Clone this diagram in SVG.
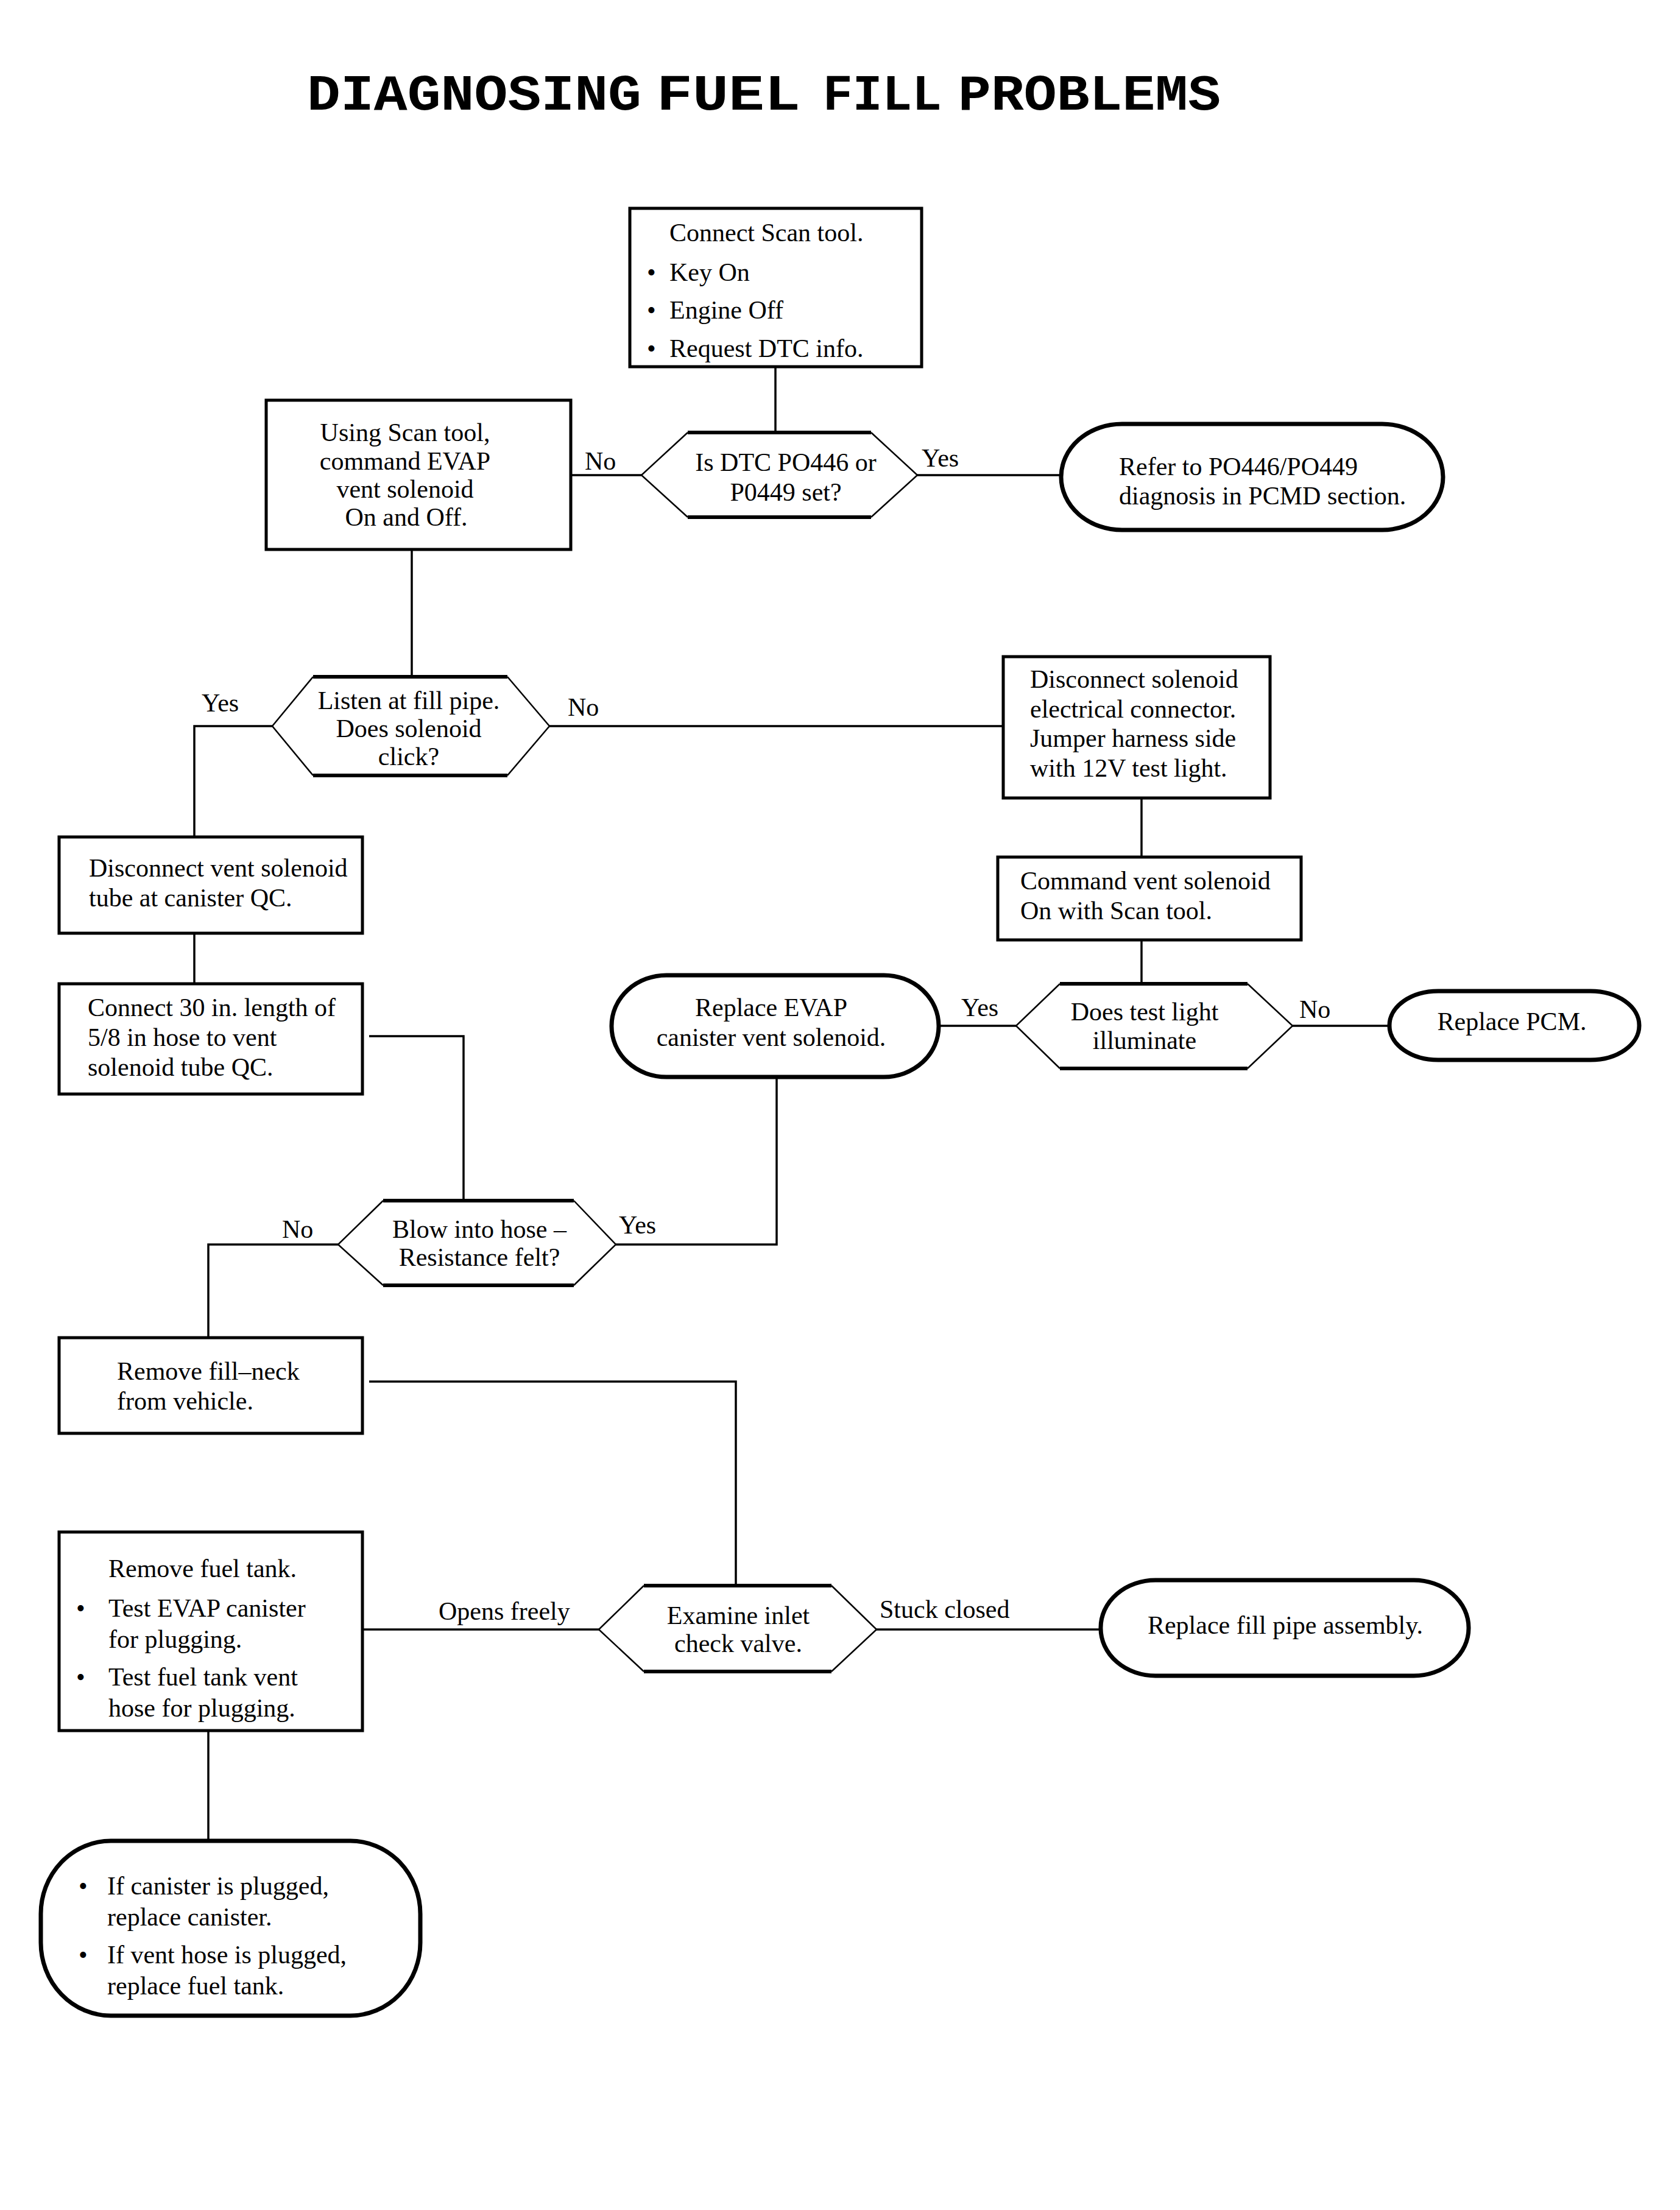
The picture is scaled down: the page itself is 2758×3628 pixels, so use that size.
<svg xmlns="http://www.w3.org/2000/svg" width="2758" height="3628" viewBox="0 0 2758 3628">
<style>
.bg{fill:#fff}
.box{fill:#fff;stroke:#000;stroke-width:5}
.term{fill:#fff;stroke:#000;stroke-width:7}
.hexd{fill:none;stroke:#000;stroke-width:2.5}
.hexh{fill:none;stroke:#000;stroke-width:6}
.hexf{fill:#fff;stroke:none}
.con{fill:none;stroke:#000;stroke-width:3.5}
text{font-family:"Liberation Serif","Times New Roman",serif;font-size:42px;fill:#000}
.c{text-anchor:middle}
.title{font-family:"Courier New","Liberation Mono",monospace;font-size:84px;font-weight:bold}
</style>
<rect class="bg" x="0" y="0" width="2758" height="3628"/>
<text class="title" y="180"><tspan x="504" textLength="549" lengthAdjust="spacingAndGlyphs">DIAGNOSING</tspan> <tspan x="1078" textLength="236" lengthAdjust="spacingAndGlyphs">FUEL</tspan> <tspan x="1351" textLength="195" lengthAdjust="spacingAndGlyphs">FILL</tspan> <tspan x="1573" textLength="431" lengthAdjust="spacingAndGlyphs">PROBLEMS</tspan></text>

<g id="connectors">
<path class="con" d="M1273,602 V710"/>
<path class="con" d="M1053,780 H937"/>
<path class="con" d="M1506,780 H1742"/>
<path class="con" d="M676,902 V1111"/>
<path class="con" d="M447,1192 H319 V1374"/>
<path class="con" d="M902,1192 H1647"/>
<path class="con" d="M1874,1310 V1407"/>
<path class="con" d="M1874,1543 V1615"/>
<path class="con" d="M1668,1684 H1541"/>
<path class="con" d="M2122,1684 H2281"/>
<path class="con" d="M1275,1768 V2043 H1011"/>
<path class="con" d="M319,1532 V1615"/>
<path class="con" d="M606,1701 H761 V1971"/>
<path class="con" d="M555,2043 H342 V2196"/>
<path class="con" d="M606,2268 H1208 V2603"/>
<path class="con" d="M983,2675 H595"/>
<path class="con" d="M1439,2675 H1807"/>
<path class="con" d="M342,2841 V3022"/>
<text x="960" y="771">No</text>
<text x="1513" y="766">Yes</text>
<text x="331" y="1168">Yes</text>
<text x="932" y="1175">No</text>
<text x="1578" y="1668">Yes</text>
<text x="2133" y="1671">No</text>
<text x="463" y="2032">No</text>
<text x="1016" y="2025">Yes</text>
<text x="720" y="2659">Opens freely</text>
<text x="1444" y="2656">Stuck closed</text>
</g>

<g id="n1">
<rect class="box" x="1034" y="342" width="479" height="260"/>
<text x="1099" y="396">Connect Scan tool.</text>
<text x="1062" y="461">•</text><text x="1099" y="461">Key On</text>
<text x="1062" y="523">•</text><text x="1099" y="523">Engine Off</text>
<text x="1062" y="586">•</text><text x="1099" y="586">Request DTC info.</text>
</g>

<g id="d1">
<polygon class="hexf" points="1053,780 1129,710 1430,710 1506,780 1430,849 1129,849"/>
<path class="hexd" d="M1129,710 L1053,780 L1129,849 M1430,710 L1506,780 L1430,849"/>
<path class="hexh" d="M1129,710 H1430 M1129,849 H1430"/>
<text class="c" x="1290" y="773">Is DTC PO446 or</text>
<text class="c" x="1290" y="822">P0449 set?</text>
</g>

<g id="t1">
<rect class="term" x="1742" y="696" width="627" height="174" rx="100" ry="87"/>
<text x="1837" y="780">Refer to PO446/PO449</text>
<text x="1837" y="828">diagnosis in PCMD section.</text>
</g>

<g id="n2">
<rect class="box" x="437" y="657" width="500" height="245"/>
<text class="c" x="665" y="724">Using Scan tool,</text>
<text class="c" x="665" y="771">command EVAP</text>
<text class="c" x="665" y="817">vent solenoid</text>
<text class="c" x="667" y="863">On and Off.</text>
</g>

<g id="d2">
<polygon class="hexf" points="447,1192 514,1111 833,1111 902,1192 833,1273 514,1273"/>
<path class="hexd" d="M514,1111 L447,1192 L514,1273 M833,1111 L902,1192 L833,1273"/>
<path class="hexh" d="M514,1111 H833 M514,1273 H833"/>
<text class="c" x="671" y="1164">Listen at fill pipe.</text>
<text class="c" x="671" y="1210">Does solenoid</text>
<text class="c" x="671" y="1256">click?</text>
</g>

<g id="n3">
<rect class="box" x="1647" y="1078" width="438" height="232"/>
<text x="1691" y="1129">Disconnect solenoid</text>
<text x="1691" y="1178">electrical connector.</text>
<text x="1691" y="1226">Jumper harness side</text>
<text x="1691" y="1275">with 12V test light.</text>
</g>

<g id="n4">
<rect class="box" x="1638" y="1407" width="498" height="136"/>
<text x="1675" y="1460">Command vent solenoid</text>
<text x="1675" y="1509">On with Scan tool.</text>
</g>

<g id="d3">
<polygon class="hexf" points="1668,1684 1740,1615 2048,1615 2122,1684 2048,1754 1740,1754"/>
<path class="hexd" d="M1740,1615 L1668,1684 L1740,1754 M2048,1615 L2122,1684 L2048,1754"/>
<path class="hexh" d="M1740,1615 H2048 M1740,1754 H2048"/>
<text class="c" x="1879" y="1675">Does test light</text>
<text class="c" x="1879" y="1722">illuminate</text>
</g>

<g id="t2">
<rect class="term" x="1004" y="1601" width="537" height="167" rx="90" ry="83"/>
<text class="c" x="1266" y="1668">Replace EVAP</text>
<text class="c" x="1266" y="1717">canister vent solenoid.</text>
</g>

<g id="t3">
<rect class="term" x="2281" y="1627" width="410" height="113" rx="80" ry="56"/>
<text class="c" x="2482" y="1691">Replace PCM.</text>
</g>

<g id="n5">
<rect class="box" x="97" y="1374" width="498" height="158"/>
<text x="146" y="1439">Disconnect vent solenoid</text>
<text x="146" y="1488">tube at canister QC.</text>
</g>

<g id="n6">
<rect class="box" x="97" y="1615" width="498" height="181"/>
<text x="144" y="1668">Connect 30 in. length of</text>
<text x="144" y="1717">5/8 in hose to vent</text>
<text x="144" y="1766">solenoid tube QC.</text>
</g>

<g id="d4">
<polygon class="hexf" points="555,2043 629,1971 942,1971 1011,2043 942,2110 629,2110"/>
<path class="hexd" d="M629,1971 L555,2043 L629,2110 M942,1971 L1011,2043 L942,2110"/>
<path class="hexh" d="M629,1971 H942 M629,2110 H942"/>
<text class="c" x="787" y="2032">Blow into hose –</text>
<text class="c" x="787" y="2078">Resistance felt?</text>
</g>

<g id="n7">
<rect class="box" x="97" y="2196" width="498" height="157"/>
<text x="192" y="2265">Remove fill–neck</text>
<text x="192" y="2314">from vehicle.</text>
</g>

<g id="d5">
<polygon class="hexf" points="983,2675 1057,2603 1365,2603 1439,2675 1365,2744 1057,2744"/>
<path class="hexd" d="M1057,2603 L983,2675 L1057,2744 M1365,2603 L1439,2675 L1365,2744"/>
<path class="hexh" d="M1057,2603 H1365 M1057,2744 H1365"/>
<text class="c" x="1212" y="2666">Examine inlet</text>
<text class="c" x="1212" y="2712">check valve.</text>
</g>

<g id="t4">
<rect class="term" x="1807" y="2594" width="604" height="157" rx="90" ry="78"/>
<text class="c" x="2110" y="2682">Replace fill pipe assembly.</text>
</g>

<g id="n8">
<rect class="box" x="97" y="2515" width="498" height="326"/>
<text x="178" y="2589">Remove fuel tank.</text>
<text x="125" y="2654">•</text><text x="178" y="2654">Test EVAP canister</text>
<text x="178" y="2705">for plugging.</text>
<text x="125" y="2767">•</text><text x="178" y="2767">Test fuel tank vent</text>
<text x="178" y="2818">hose for plugging.</text>
</g>

<g id="t5">
<rect class="term" x="67" y="3022" width="623" height="287" rx="115" ry="120"/>
<text x="129" y="3110">•</text><text x="176" y="3110">If canister is plugged,</text>
<text x="176" y="3161">replace canister.</text>
<text x="129" y="3223">•</text><text x="176" y="3223">If vent hose is plugged,</text>
<text x="176" y="3274">replace fuel tank.</text>
</g>
</svg>
